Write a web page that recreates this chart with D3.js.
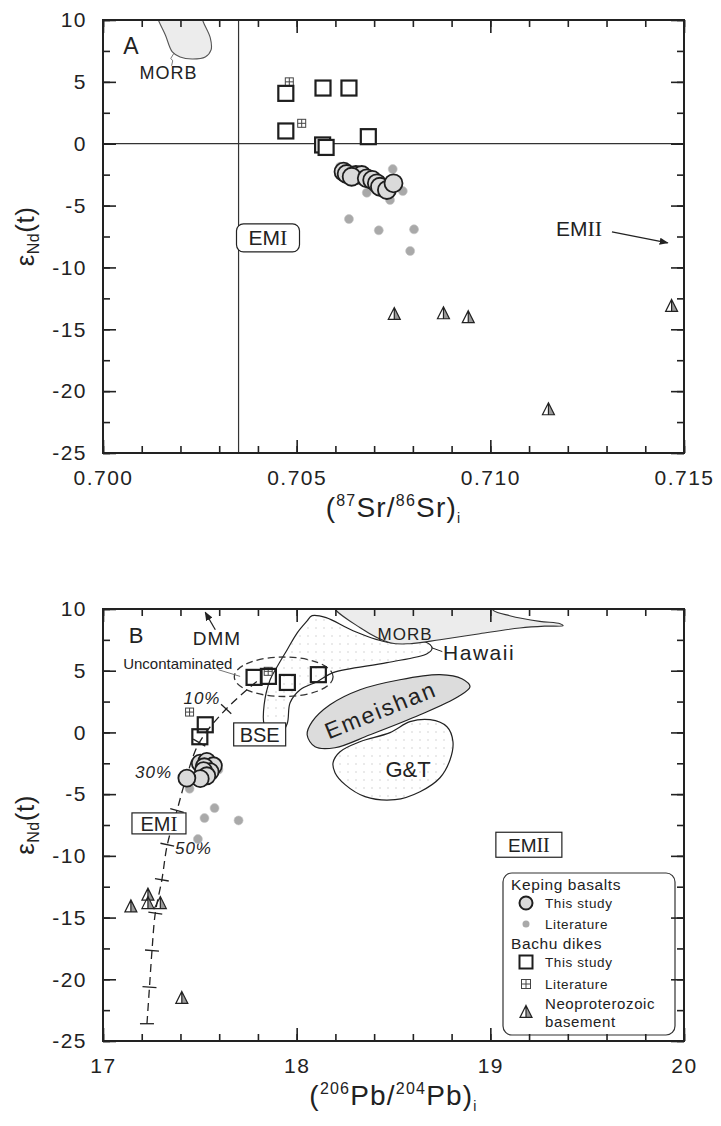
<!DOCTYPE html>
<html>
<head>
<meta charset="utf-8">
<title></title>
<script src="https://cdn.jsdelivr.net/npm/d3@7"></script>
<style>
body { margin: 0; background: #fff; }
svg { display: block; }
text { font-family: "Liberation Sans", Arial, sans-serif; fill: #222; }
</style>
</head>
<body>
<svg id="main" width="721" height="1126"></svg>
<script>
// AXIS TICKS
var srTicks = [0.700, 0.705, 0.710, 0.715];
var pbTicks = [17, 18, 19, 20];
var ndTicks = [10, 5, 0, -5, -10, -15, -20, -25];

// PANEL A : (87Sr/86Sr)i vs eNd(t)
var kepingA = [[0.70621,-2.26],[0.70629,-2.45],[0.70653,-2.53],[0.70668,-2.53],[0.70642,-2.67],
               [0.70681,-2.80],[0.70695,-2.93],[0.70707,-3.20],[0.70715,-3.48],[0.70733,-3.74],[0.70750,-3.20]];
var kepingLitA = [[0.70612,-1.86],[0.70748,-2.05],[0.70774,-3.83],[0.70681,-3.96],[0.70741,-4.55],
                  [0.70635,-6.09],[0.70712,-7.00],[0.70803,-6.92],[0.70793,-8.67]];
var bachuA = [[0.70472,4.07],[0.70568,4.50],[0.70635,4.50],[0.70472,1.03],[0.70685,0.57],
              [0.70567,-0.10],[0.70576,-0.30]];
var bachuLitA = [[0.70481,5.00],[0.70513,1.65]];
var basementA = [[0.70752,-13.77],[0.70879,-13.71],[0.70943,-14.03],[0.71468,-13.12],[0.71150,-21.47]];
var morbA = [[0.70137,10.65],[0.70143,10],[0.70161,8.79],[0.70179,7.42],[0.70199,7.01],[0.70230,6.85],
             [0.70264,7.01],[0.70279,7.58],[0.70277,8.55],[0.70259,9.84],[0.70251,10.65]];
var bseSrA = 0.7035;

// PANEL B : (206Pb/204Pb)i vs eNd(t)
var kepingB = [[17.502,-2.48],[17.536,-2.35],[17.570,-2.70],[17.523,-2.78],[17.553,-3.18],
               [17.519,-3.10],[17.536,-3.51],[17.502,-3.75],[17.433,-3.70]];
var kepingLitB = [[17.596,-3.02],[17.447,-4.56],[17.576,-6.13],[17.524,-6.94],[17.700,-7.13],[17.490,-8.64]];
var bachuB = [[17.780,4.46],[17.854,4.54],[17.952,4.05],[18.112,4.68],[17.528,0.62],[17.500,-0.35]];
var bachuLitB = [[17.853,4.95],[17.447,1.65]];
var basementB = [[17.144,-14.10],[17.232,-13.15],[17.232,-13.83],[17.296,-13.83],[17.407,-21.52]];
var morbB = [[18.188,10.35],[18.328,8.48],[18.482,7.27],[18.585,7.19],[18.740,7.51],[18.946,8.00],
             [19.152,8.46],[19.280,8.61],[19.376,8.65],[19.360,8.81],[19.255,9.00],[19.100,9.46],
             [19.015,9.89],[19.000,10.35]];
var hawaiiB = [[18.052,9.00],[18.080,9.46],[18.152,9.30],[18.291,8.24],[18.482,7.27],[18.637,7.43],
               [18.689,7.11],[18.699,6.78],[18.673,6.38],[18.466,5.65],[18.188,4.84],[18.105,4.11],
               [18.018,3.46],[17.966,2.41],[17.951,0.70],[17.915,-0.11],[17.863,-0.19],[17.832,0.62],
               [17.832,2.24],[17.863,4.27],[17.899,5.32],[17.951,6.70],[18.002,8.05]];
var emeishanB = [[18.054,-0.19],[18.080,0.87],[18.172,2.24],[18.327,3.46],[18.533,4.27],[18.740,4.68],
                 [18.853,4.35],[18.895,3.70],[18.833,2.89],[18.637,1.43],[18.379,-0.19],[18.198,-1.24],
                 [18.095,-1.16]];
var gtB = [[18.188,-2.44],[18.224,-1.56],[18.327,-0.75],[18.482,-0.02],[18.585,0.87],[18.689,1.03],
           [18.776,0.46],[18.807,-0.75],[18.792,-2.21],[18.740,-3.67],[18.637,-4.80],[18.508,-5.45],
           [18.353,-5.20],[18.250,-4.23],[18.198,-3.26]];
// mixing curve: start, then 10% ... 100% steps
var mixStart = [17.794, 4.13];
var mixB = [[17.636,1.90],[17.497,-0.83],[17.430,-3.67],[17.382,-6.32],[17.332,-9.10],
            [17.304,-11.94],[17.270,-14.64],[17.253,-17.67],[17.240,-20.63],[17.227,-23.60]];
var mixLabels = [["10%",17.511,2.79],["30%",17.261,-3.16],["50%",17.467,-9.37]];
var uncontam = {cx: 17.933, cy: 4.51, rx: 0.255, ry: 1.60};

var svg = d3.select("#main");
var left = 103, right = 684;
var topA = 20, bottomA = 453;
var topB = 609, bottomB = 1041;

var xA = d3.scaleLinear().domain([0.700, 0.715]).range([left, right]);
var yA = d3.scaleLinear().domain([-25, 10]).range([bottomA, topA]);
var xB = d3.scaleLinear().domain([17, 20]).range([left, right]);
var yB = d3.scaleLinear().domain([-25, 10]).range([bottomB, topB]);

// DEFS
var defs = svg.append("defs");
defs.append("pattern").attr("id", "stipple").attr("width", 8).attr("height", 8)
    .attr("patternUnits", "userSpaceOnUse")
  .append("circle").attr("cx", 4).attr("cy", 4).attr("r", 0.8).attr("fill", "#d0d0d0");
defs.append("marker").attr("id", "arrow").attr("viewBox", "0 0 10 10").attr("refX", 9).attr("refY", 5)
    .attr("markerWidth", 9).attr("markerHeight", 9).attr("orient", "auto").attr("markerUnits", "userSpaceOnUse")
  .append("path").attr("d", "M0,1 L10,5 L0,9 Z").attr("fill", "#222");
defs.append("clipPath").attr("id", "clipA").append("rect")
    .attr("x", left).attr("y", topA).attr("width", right - left).attr("height", bottomA - topA);
defs.append("clipPath").attr("id", "clipB").append("rect")
    .attr("x", left).attr("y", topB).attr("width", right - left).attr("height", bottomB - topB);

// AXES
function frame(x, y, xTicks, xStep, fmt) {
    var y0 = y.range()[0], y1 = y.range()[1];
    var x0 = x.range()[0], x1 = x.range()[1];
    var d = x.domain();
    var xMinor = d3.range(0, Math.round((d[1] - d[0]) / xStep) + 1).map(function(i) { return d[0] + i * xStep; });
    var yMinor = d3.range(0, 15).map(function(i) { return -25 + i * 2.5; });

    var axes = [
        [d3.axisBottom(x).tickValues(xMinor).tickSize(-7).tickFormat(""), 0, y0],
        [d3.axisBottom(x).tickValues(xTicks).tickSize(-13).tickPadding(17).tickFormat(fmt), 0, y0],
        [d3.axisTop(x).tickValues(xMinor).tickSize(-7).tickFormat(""), 0, y1],
        [d3.axisTop(x).tickValues(xTicks).tickSize(-13).tickFormat(""), 0, y1],
        [d3.axisLeft(y).tickValues(yMinor).tickSize(-7).tickFormat(""), x0, 0],
        [d3.axisLeft(y).tickValues(ndTicks).tickSize(-13).tickPadding(16).tickFormat(function(v) { return String(v); }), x0, 0],
        [d3.axisRight(y).tickValues(yMinor).tickSize(-7).tickFormat(""), x1, 0],
        [d3.axisRight(y).tickValues(ndTicks).tickSize(-13).tickFormat(""), x1, 0]
    ];
    for (var i = 0; i < axes.length; i++) {
        var g = svg.append("g").attr("transform", "translate(" + axes[i][1] + "," + axes[i][2] + ")").call(axes[i][0]);
        g.select(".domain").remove();
        g.selectAll("line").attr("stroke", "#222").attr("stroke-width", 1.6);
        g.selectAll("text").attr("fill", "#222").style("font-family", "'Liberation Sans', Arial, sans-serif")
            .style("font-size", "21px").style("letter-spacing", "1.5px");
    }
    svg.append("rect").attr("x", x0).attr("y", y1).attr("width", x1 - x0).attr("height", y0 - y1)
        .attr("fill", "none").attr("stroke", "#222").attr("stroke-width", 2);
}

function yLabel(cy) {
    var t = svg.append("text").attr("transform", "translate(34," + cy + ") rotate(-90)")
        .attr("text-anchor", "middle").style("font-size", "26px").style("letter-spacing", "0.5px");
    t.append("tspan").text("ε");
    t.append("tspan").attr("dy", 5).style("font-size", "16px").text("Nd");
    t.append("tspan").attr("dy", -5).text("(t)");
}

function xLabel(cy, a, b, el) {
    var t = svg.append("text").attr("x", (left + right) / 2).attr("y", cy)
        .attr("text-anchor", "middle").style("font-size", "28px").style("letter-spacing", "1.2px");
    t.append("tspan").text("(");
    t.append("tspan").attr("dy", -11).style("font-size", "16px").text(a);
    t.append("tspan").attr("dy", 11).text(el + "/");
    t.append("tspan").attr("dy", -11).style("font-size", "16px").text(b);
    t.append("tspan").attr("dy", 11).text(el + ")");
    t.append("tspan").attr("dy", 6).style("font-size", "14px").text("i");
}

// MARKERS
function litDots(g, data, x, y) {
    g.selectAll(null).data(data).enter().append("circle")
        .attr("cx", function(d) { return x(d[0]); }).attr("cy", function(d) { return y(d[1]); })
        .attr("r", 4.5).attr("fill", "#a9a9a9").attr("stroke", "#c4c4c4").attr("stroke-width", 0.6);
}
function bigCircles(g, data, x, y, r) {
    g.selectAll(null).data(data).enter().append("circle")
        .attr("cx", function(d) { return x(d[0]); }).attr("cy", function(d) { return y(d[1]); })
        .attr("r", r).attr("fill", "#dadada").attr("stroke", "#1e1e1e").attr("stroke-width", 1.8);
}
function squares(g, data, x, y, s, fill) {
    g.selectAll(null).data(data).enter().append("rect")
        .attr("x", function(d) { return x(d[0]) - s / 2; }).attr("y", function(d) { return y(d[1]) - s / 2; })
        .attr("width", s).attr("height", s).attr("fill", fill).attr("stroke", "#1e1e1e").attr("stroke-width", 2.2);
}
function plusSquare(g, cx, cy, s) {
    g.append("rect").attr("x", cx - s / 2).attr("y", cy - s / 2).attr("width", s).attr("height", s)
        .attr("fill", "#fff").attr("stroke", "#444").attr("stroke-width", 1);
    g.append("path").attr("d", "M" + cx + "," + (cy - s / 2) + "V" + (cy + s / 2) + "M" + (cx - s / 2) + "," + cy + "H" + (cx + s / 2))
        .attr("stroke", "#444").attr("stroke-width", 1);
}
function plusSquares(g, data, x, y) {
    for (var i = 0; i < data.length; i++) plusSquare(g, x(data[i][0]), y(data[i][1]), 8);
}
function triangle(g, cx, cy, s) {
    var top = cy - s * 0.55, bot = cy + s * 0.45;
    g.append("path").attr("d", "M" + cx + "," + top + "L" + (cx + s / 2) + "," + bot + "L" + cx + "," + bot + "Z")
        .attr("fill", "#9a9a9a");
    g.append("path").attr("d", "M" + cx + "," + top + "L" + (cx + s / 2) + "," + bot + "L" + (cx - s / 2) + "," + bot + "Z M" + cx + "," + top + "V" + bot)
        .attr("fill", "none").attr("stroke", "#222").attr("stroke-width", 1.2);
}
function triangles(g, data, x, y) {
    for (var i = 0; i < data.length; i++) triangle(g, x(data[i][0]), y(data[i][1]), 12);
}
function emLabel(g, cx, cy, roman, size, w, h, rx) {
    g.append("rect").attr("x", cx - w / 2).attr("y", cy - h / 2).attr("width", w).attr("height", h).attr("rx", rx)
        .attr("fill", "#fff").attr("stroke", "#222").attr("stroke-width", 1.2);
    var t = g.append("text").attr("x", cx).attr("y", cy).attr("dy", "0.36em").attr("text-anchor", "middle")
        .style("font-size", size + "px");
    t.append("tspan").text("EM");
    t.append("tspan").style("font-family", "'Liberation Serif', serif").style("font-size", (size + 1) + "px").text(roman);
}

// ================= PANEL A =================
var gA = svg.append("g");
var line = d3.line().x(function(d) { return xA(d[0]); }).y(function(d) { return yA(d[1]); });

gA.append("path").attr("clip-path", "url(#clipA)")
    .attr("d", line.curve(d3.curveCatmullRom)(morbA))
    .attr("fill", "#ececec").attr("stroke", "#555").attr("stroke-width", 1.1);
gA.append("path").attr("d", "M" + xA(0.70183) + "," + yA(7.3) + "L" + xA(0.70175) + "," + yA(6.9) + "L" + xA(0.70180) + "," + yA(6.7) + "L" + xA(0.70177) + "," + yA(6.3))
    .attr("fill", "none").attr("stroke", "#555").attr("stroke-width", 0.8);
gA.append("text").attr("x", xA(0.70169)).attr("y", yA(5.75)).attr("dy", "0.36em").attr("text-anchor", "middle")
    .style("font-size", "18px").style("letter-spacing", "1px").text("MORB");
gA.append("text").attr("x", 131).attr("y", 46).attr("dy", "0.36em").attr("text-anchor", "middle")
    .style("font-size", "23px").text("A");

// reference lines
gA.append("line").attr("x1", xA(bseSrA)).attr("x2", xA(bseSrA)).attr("y1", topA).attr("y2", bottomA)
    .attr("stroke", "#333").attr("stroke-width", 1.2);
gA.append("line").attr("x1", left).attr("x2", right).attr("y1", yA(0)).attr("y2", yA(0))
    .attr("stroke", "#333").attr("stroke-width", 1.2);

plusSquares(gA, bachuLitA, xA, yA);
squares(gA, bachuA, xA, yA, 15, "#fff");
litDots(gA, kepingLitA, xA, yA);
bigCircles(gA, kepingA, xA, yA, 9);
triangles(gA, basementA, xA, yA);

emLabel(gA, xA(0.70426), yA(-7.61), "I", 21, 63, 28, 7);
var emii = gA.append("text").attr("x", xA(0.71229)).attr("y", yA(-6.88)).attr("dy", "0.36em")
    .attr("text-anchor", "middle").style("font-size", "21px");
emii.append("tspan").text("EM");
emii.append("tspan").style("font-family", "'Liberation Serif', serif").style("font-size", "22px").text("II");
gA.append("line").attr("x1", xA(0.71314)).attr("y1", yA(-7.12)).attr("x2", xA(0.71458)).attr("y2", yA(-8.01))
    .attr("stroke", "#222").attr("stroke-width", 1.2).attr("marker-end", "url(#arrow)");

frame(xA, yA, srTicks, 0.001, d3.format(".3f"));
yLabel((topA + bottomA) / 2);
xLabel(517, "87", "86", "Sr");

// ================= PANEL B =================
var gB = svg.append("g");
var fields = gB.append("g").attr("clip-path", "url(#clipB)");
var lineB = d3.line().x(function(d) { return xB(d[0]); }).y(function(d) { return yB(d[1]); })
    .curve(d3.curveCatmullRomClosed);

fields.append("path").attr("d", lineB(hawaiiB)).attr("fill", "url(#stipple)").attr("stroke", "#222").attr("stroke-width", 1.2);
fields.append("path").attr("d", lineB(morbB)).attr("fill", "#ececec").attr("stroke", "#333").attr("stroke-width", 1.1);
fields.append("path").attr("d", lineB(emeishanB)).attr("fill", "#dcdcdc").attr("stroke", "#222").attr("stroke-width", 1.2);
fields.append("path").attr("d", lineB(gtB)).attr("fill", "url(#stipple)").attr("stroke", "#222").attr("stroke-width", 1.2);

gB.append("text").attr("x", xB(18.56)).attr("y", yB(8.0)).attr("dy", "0.36em").attr("text-anchor", "middle")
    .style("font-size", "17px").style("letter-spacing", "1px").text("MORB");
gB.append("line").attr("x1", xB(18.699)).attr("y1", yB(6.85)).attr("x2", xB(18.752)).attr("y2", yB(6.55))
    .attr("stroke", "#222").attr("stroke-width", 1);
gB.append("text").attr("x", xB(18.756)).attr("y", yB(6.5)).attr("dy", "0.36em")
    .style("font-size", "21px").style("letter-spacing", "1.5px").text("Hawaii");
gB.append("text").attr("transform", "translate(" + xB(18.433) + "," + yB(1.84) + ") rotate(-22)")
    .attr("dy", "0.36em").attr("text-anchor", "middle")
    .style("font-size", "23px").style("letter-spacing", "2px").text("Emeishan");
gB.append("text").attr("x", xB(18.575)).attr("y", yB(-3.0)).attr("dy", "0.36em").attr("text-anchor", "middle")
    .style("font-size", "22px").text("G&T");

// uncontaminated ellipse
gB.append("ellipse").attr("cx", xB(uncontam.cx)).attr("cy", yB(uncontam.cy))
    .attr("rx", xB(uncontam.cx + uncontam.rx) - xB(uncontam.cx)).attr("ry", yB(uncontam.cy - uncontam.ry) - yB(uncontam.cy))
    .attr("fill", "none").attr("stroke", "#333").attr("stroke-width", 1.3).attr("stroke-dasharray", "7,4");
gB.append("line").attr("x1", xB(17.596)).attr("y1", yB(5.08)).attr("x2", xB(17.708)).attr("y2", yB(4.54))
    .attr("stroke", "#666").attr("stroke-width", 0.9);
gB.append("text").attr("x", xB(17.386)).attr("y", yB(5.54)).attr("dy", "0.36em").attr("text-anchor", "middle")
    .style("font-size", "15px").text("Uncontaminated");

// DMM
gB.append("line").attr("x1", xB(17.580)).attr("y1", yB(8.32)).attr("x2", xB(17.528)).attr("y2", yB(9.73))
    .attr("stroke", "#222").attr("stroke-width", 1.2).attr("marker-end", "url(#arrow)");
gB.append("text").attr("x", xB(17.588)).attr("y", yB(7.6)).attr("dy", "0.36em").attr("text-anchor", "middle")
    .style("font-size", "19px").style("letter-spacing", "1px").text("DMM");
gB.append("text").attr("x", 136).attr("y", 635).attr("dy", "0.36em").attr("text-anchor", "middle")
    .style("font-size", "22px").text("B");

// mixing curve
var mixPts = [mixStart].concat(mixB);
var mixPx = mixPts.map(function(d) { return [xB(d[0]), yB(d[1])]; });
gB.append("path").attr("d", d3.line().curve(d3.curveCatmullRom)(mixPx))
    .attr("fill", "none").attr("stroke", "#222").attr("stroke-width", 1.3).attr("stroke-dasharray", "8,5");
for (var i = 1; i < mixPx.length; i++) {
    var a = mixPx[i - 1], b = mixPx[Math.min(i + 1, mixPx.length - 1)];
    var dx = b[0] - a[0], dy = b[1] - a[1], len = Math.sqrt(dx * dx + dy * dy);
    var nx = -dy / len * 7, ny = dx / len * 7;
    if (i == mixPx.length - 1) { nx = 7; ny = 0; }
    gB.append("line").attr("x1", mixPx[i][0] - nx).attr("y1", mixPx[i][1] - ny)
        .attr("x2", mixPx[i][0] + nx).attr("y2", mixPx[i][1] + ny)
        .attr("stroke", "#222").attr("stroke-width", 1.3);
}
for (var i = 0; i < mixLabels.length; i++) {
    gB.append("text").attr("x", xB(mixLabels[i][1])).attr("y", yB(mixLabels[i][2])).attr("dy", "0.36em")
        .attr("text-anchor", "middle").style("font-size", "17px").style("font-style", "italic")
        .style("letter-spacing", "1px").text(mixLabels[i][0]);
}

emLabel(gB, xB(17.809), yB(-0.16), "", 20, 52, 23, 0);
gB.selectAll("text").filter(function() { return d3.select(this).text() == "EM"; }).text("BSE");
emLabel(gB, xB(17.289), yB(-7.37), "I", 20, 54, 21, 0);
emLabel(gB, xB(19.199), yB(-9.1), "II", 19, 66, 25, 0);

plusSquares(gB, bachuLitB, xB, yB);
squares(gB, bachuB, xB, yB, 15, "none");
litDots(gB, kepingLitB, xB, yB);
bigCircles(gB, kepingB, xB, yB, 8.5);
triangles(gB, basementB, xB, yB);

// LEGEND
var lg = svg.append("g");
lg.append("rect").attr("x", 503).attr("y", 873).attr("width", 172).attr("height", 162).attr("rx", 9)
    .attr("fill", "#fff").attr("stroke", "#333").attr("stroke-width", 1.2);
var legendHead = [["Keping basalts", 884], ["Bachu dikes", 943]];
for (var i = 0; i < legendHead.length; i++) {
    lg.append("text").attr("x", 511).attr("y", legendHead[i][1]).attr("dy", "0.36em")
        .style("font-size", "15.5px").style("letter-spacing", "0.6px").text(legendHead[i][0]);
}
var legendItems = [["This study", 903], ["Literature", 924], ["This study", 962], ["Literature", 984]];
for (var i = 0; i < legendItems.length; i++) {
    lg.append("text").attr("x", 545).attr("y", legendItems[i][1]).attr("dy", "0.36em")
        .style("font-size", "13.5px").style("letter-spacing", "0.6px").text(legendItems[i][0]);
}
lg.append("text").attr("x", 545).attr("y", 1004).attr("dy", "0.36em")
    .style("font-size", "15px").style("letter-spacing", "0.6px").text("Neoproterozoic");
lg.append("text").attr("x", 545).attr("y", 1022).attr("dy", "0.36em")
    .style("font-size", "15px").style("letter-spacing", "0.6px").text("basement");
lg.append("circle").attr("cx", 526).attr("cy", 903).attr("r", 6.5).attr("fill", "#dadada")
    .attr("stroke", "#1e1e1e").attr("stroke-width", 2);
lg.append("circle").attr("cx", 526).attr("cy", 924).attr("r", 3.5).attr("fill", "#a9a9a9");
lg.append("rect").attr("x", 519.5).attr("y", 955.5).attr("width", 13).attr("height", 13)
    .attr("fill", "none").attr("stroke", "#1e1e1e").attr("stroke-width", 2);
plusSquare(lg, 526, 984, 9);
triangle(lg, 526, 1012, 12);

frame(xB, yB, pbTicks, 0.2, function(v) { return String(v); });
yLabel((topB + bottomB) / 2);
xLabel(1105, "206", "204", "Pb");
</script>
</body>
</html>
